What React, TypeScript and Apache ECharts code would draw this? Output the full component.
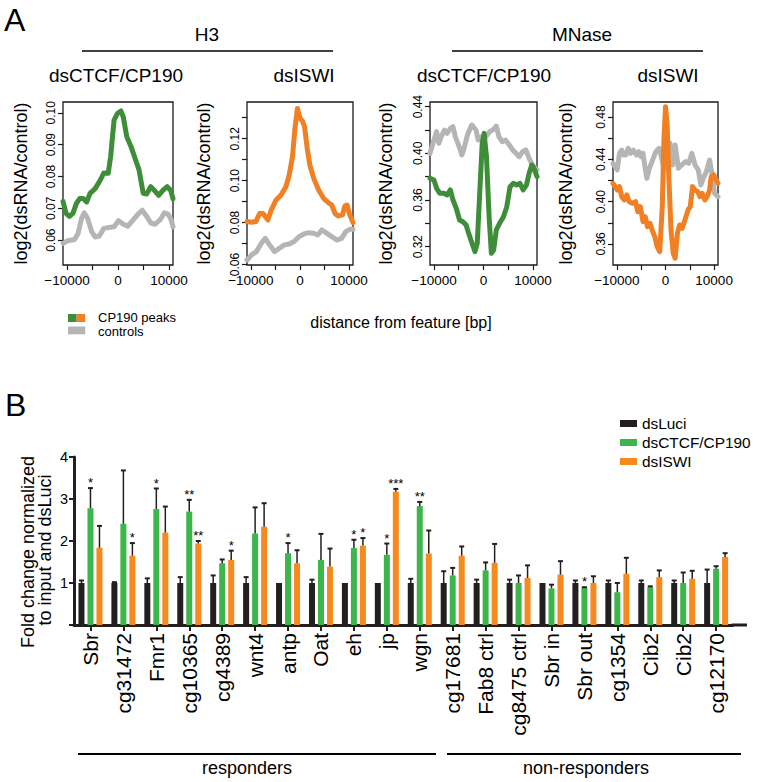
import React, { useEffect, useRef } from "react";
import * as echarts from "echarts";

const FONT = "'Liberation Sans', Arial, Helvetica, sans-serif";

// ---------------- Panel A data ----------------
const distTicks = [-10000, -5000, 0, 5000, 10000];
const distLabels = [-10000, 0, 10000];

const h3CtcfYTicks = [0.06, 0.07, 0.08, 0.09, 0.1];
const h3CtcfYLabels = [0.06, 0.07, 0.08, 0.09, 0.1];
const h3IswiYTicks = [0.06, 0.07, 0.08, 0.09, 0.1, 0.11, 0.12, 0.13];
const h3IswiYLabels = [0.06, 0.08, 0.1, 0.12];
const mnCtcfYTicks = [0.32, 0.34, 0.36, 0.38, 0.4, 0.42, 0.44];
const mnCtcfYLabels = [0.32, 0.36, 0.4, 0.44];
const mnIswiYTicks = [0.36, 0.38, 0.4, 0.42, 0.44, 0.46, 0.48];
const mnIswiYLabels = [0.36, 0.4, 0.44, 0.48];

const h3CtcfPeaks: [number, number][] = [
  [-10800, 0.0722], [-10200, 0.0684], [-9530, 0.0675], [-8855, 0.0684], [-8180, 0.0715],
  [-7510, 0.0731], [-6835, 0.0731], [-6160, 0.072], [-5490, 0.0747], [-4480, 0.0762],
  [-3470, 0.0789], [-2795, 0.0811], [-1920, 0.081], [-1450, 0.0862], [-775, 0.0977],
  [-100, 0.0998], [570, 0.1006], [1040, 0.0987], [1720, 0.0925], [2590, 0.0893],
  [3470, 0.0851], [4140, 0.082], [4950, 0.0747], [5620, 0.0745], [6430, 0.0768],
  [7100, 0.0757], [7980, 0.0741], [8860, 0.0757], [9660, 0.0768], [10340, 0.0757], [10800, 0.073],
];
const h3CtcfControls: [number, number][] = [
  [-10800, 0.059], [-9870, 0.0598], [-8520, 0.0602], [-7840, 0.0621], [-7170, 0.0668],
  [-6630, 0.0686], [-5960, 0.0668], [-5150, 0.0626], [-4480, 0.061], [-3670, 0.0613],
  [-2790, 0.0637], [-1780, 0.064], [-770, 0.0642], [100, 0.0661], [1040, 0.065],
  [1920, 0.0644], [2930, 0.0663], [3940, 0.0682], [4750, 0.0694], [5620, 0.0675],
  [6430, 0.0654], [7310, 0.065], [8320, 0.0665], [9120, 0.0686], [9800, 0.0682],
  [10340, 0.0668], [10800, 0.0642],
];
const h3IswiPeaks: [number, number][] = [
  [-10800, 0.0805], [-9870, 0.0802], [-9000, 0.0805], [-8200, 0.0844], [-7530, 0.0844],
  [-6530, 0.0813], [-5870, 0.086], [-4870, 0.0908], [-3870, 0.0932], [-2870, 0.0971],
  [-2200, 0.1027], [-1530, 0.1114], [-1070, 0.1241], [-530, 0.1344], [0, 0.1297],
  [470, 0.1286], [930, 0.1257], [1470, 0.1154], [2000, 0.1075], [2800, 0.1011],
  [3800, 0.0956], [4800, 0.0916], [5800, 0.0895], [6470, 0.0884], [7130, 0.0844],
  [7800, 0.0832], [8670, 0.0837], [9130, 0.0879], [9600, 0.0884], [10130, 0.0837], [10800, 0.08],
];
const h3IswiControls: [number, number][] = [
  [-10800, 0.0622], [-9870, 0.0646], [-8870, 0.0662], [-7870, 0.0702], [-7070, 0.0725],
  [-6200, 0.0694], [-5200, 0.0662], [-4200, 0.0678], [-3200, 0.0694], [-2200, 0.0698],
  [-1200, 0.071], [-200, 0.0733], [800, 0.0746], [1800, 0.0752], [2800, 0.0749],
  [3600, 0.0741], [4470, 0.0765], [5470, 0.0749], [6470, 0.0733], [7470, 0.0717],
  [8470, 0.0725], [9330, 0.0757], [10130, 0.0768], [10800, 0.0768],
];
const mnCtcfPeaks: [number, number][] = [
  [-10800, 0.3786], [-10000, 0.3771], [-9470, 0.37], [-8810, 0.3657], [-8010, 0.3657],
  [-7350, 0.3643], [-6690, 0.3686], [-6160, 0.36], [-5500, 0.3529], [-4830, 0.3429],
  [-4170, 0.3414], [-3510, 0.3386], [-2980, 0.3314], [-2320, 0.3229], [-1720, 0.3157],
  [-1260, 0.3229], [-730, 0.3686], [-260, 0.4086], [130, 0.4171], [600, 0.3971],
  [1130, 0.3457], [1590, 0.3143], [2050, 0.3171], [2580, 0.3343], [3250, 0.34],
  [4040, 0.3457], [4700, 0.3543], [5360, 0.3714], [6030, 0.3743], [6690, 0.3729],
  [7350, 0.3743], [8010, 0.3686], [8680, 0.3729], [9210, 0.3829], [9740, 0.39],
  [10200, 0.3871], [10800, 0.38],
];
const mnCtcfControls: [number, number][] = [
  [-10800, 0.4], [-10000, 0.4114], [-9470, 0.4186], [-9010, 0.4086], [-8540, 0.4143],
  [-7880, 0.42], [-7350, 0.4171], [-6690, 0.4214], [-6160, 0.4229], [-5700, 0.4143],
  [-5030, 0.4071], [-4370, 0.3986], [-3910, 0.4043], [-3250, 0.4157], [-2380, 0.4243],
  [-1520, 0.42], [-1060, 0.4114], [-400, 0.4143], [460, 0.4143], [1260, 0.4186],
  [2050, 0.4206], [2580, 0.4234], [3110, 0.4143], [3770, 0.41], [4440, 0.4114],
  [5230, 0.4071], [5890, 0.4029], [6560, 0.4], [7220, 0.3971], [7880, 0.4014],
  [8540, 0.4029], [9210, 0.3957], [9870, 0.39], [10800, 0.3857],
];
const mnIswiPeaks: [number, number][] = [
  [-10800, 0.4173], [-9930, 0.411], [-9470, 0.4142], [-9010, 0.4047], [-8480, 0.4016],
  [-7950, 0.4063], [-7480, 0.4], [-6820, 0.3984], [-6160, 0.4], [-5700, 0.3905],
  [-5170, 0.3953], [-4640, 0.3811], [-4170, 0.3858], [-3710, 0.3764], [-3180, 0.3795],
  [-2650, 0.3717], [-2190, 0.3669], [-1720, 0.3575], [-1190, 0.3528], [-660, 0.3953],
  [-330, 0.4583], [0, 0.4898], [330, 0.474], [660, 0.4268], [1130, 0.3732],
  [1590, 0.3512], [1990, 0.3465], [2450, 0.3701], [2910, 0.3779], [3440, 0.3748],
  [4110, 0.3843], [4640, 0.3921], [5100, 0.3953], [5560, 0.4142], [6090, 0.411],
  [6620, 0.4095], [7090, 0.4047], [7550, 0.4079], [8080, 0.4016], [8610, 0.4051],
  [9070, 0.411], [9400, 0.4236], [9930, 0.4252], [10800, 0.4173],
];
const mnIswiControls: [number, number][] = [
  [-10800, 0.4362], [-9930, 0.4299], [-9470, 0.4457], [-9010, 0.4488], [-8610, 0.4441],
  [-8150, 0.4441], [-7680, 0.4504], [-7150, 0.4457], [-6620, 0.4488], [-5960, 0.4441],
  [-5500, 0.4472], [-5030, 0.4425], [-4640, 0.4457], [-4170, 0.4315], [-3840, 0.422],
  [-3310, 0.4315], [-2650, 0.4394], [-1990, 0.4472], [-1320, 0.4504], [-860, 0.4425],
  [-330, 0.4315], [260, 0.4535], [930, 0.4551], [1460, 0.4346], [1990, 0.4535],
  [2650, 0.4315], [3310, 0.4346], [4110, 0.4378], [4770, 0.4362], [5430, 0.4457],
  [6090, 0.4346], [6750, 0.4299], [7280, 0.4157], [7750, 0.422], [8410, 0.4283],
  [9070, 0.4394], [9540, 0.4268], [10070, 0.4079], [10800, 0.4047],
];

// ---------------- Panel B data ----------------
const genes = [
  "Sbr", "cg31472", "Fmr1", "cg10365", "cg4389", "wnt4", "antp", "Oat", "eh", "jp", "wgn",
  "cg17681", "Fab8 ctrl", "cg8475 ctrl", "Sbr in", "Sbr out", "cg1354", "Cib2", "Cib2", "cg12170",
];
const luciMean = [1, 1, 1, 1, 1, 1, 1, 1, 1, 1, 1, 1, 1, 1, 1, 1, 1, 1, 1, 1];
const luciErr = [0.06, 0.02, 0.11, 0.14, 0.18, 0.14, 0, 0.08, 0, 0, 0.1, 0.28, 0.08, 0.08, 0, 0.06, 0.06, 0.06, 0.06, 0.32];
const ctcfMean = [2.78, 2.41, 2.76, 2.7, 1.47, 2.18, 1.71, 1.55, 1.83, 1.67, 2.83, 1.18, 1.3, 1.0, 0.87, 0.89, 0.78, 0.9, 1.0, 1.34];
const ctcfErr = [0.48, 1.27, 0.49, 0.28, 0.09, 0.62, 0.24, 0.62, 0.2, 0.27, 0.1, 0.18, 0.19, 0.18, 0.09, 0.01, 0.22, 0.02, 0.25, 0.06];
const iswiMean = [1.84, 1.65, 2.2, 1.94, 1.55, 2.34, 1.47, 1.39, 1.89, 3.17, 1.7, 1.65, 1.48, 1.12, 1.2, 1.0, 1.22, 1.14, 1.1, 1.62];
const iswiErr = [0.52, 0.3, 0.62, 0.06, 0.22, 0.56, 0.31, 0.43, 0.18, 0.07, 0.55, 0.22, 0.45, 0.3, 0.32, 0.16, 0.38, 0.16, 0.19, 0.09];
const luciStars = ["", "", "", "", "", "", "", "", "", "", "", "", "", "", "", "", "", "", "", ""];
const ctcfStars = ["*", "", "*", "**", "", "", "*", "", "*", "*", "**", "", "", "", "", "*", "", "", "", ""];
const iswiStars = ["", "*", "", "**", "*", "", "", "", "*", "***", "", "", "", "", "", "", "", "", "", ""];
const yTicksB = [0, 1, 2, 3, 4];
const yLabelsB = [1, 2, 3, 4];

// ---------------- styles / layout ----------------
const greenA = "#3e8d39";
const orangeA = "#f17f23";
const grayA = "#b5b5b5";
const blackB = "#231f20";
const greenB = "#3cb54a";
const orangeB = "#f68a1f";

const aPanels = [
  { left: 63, width: 110, min: 0.0522, max: 0.1034, yTicks: h3CtcfYTicks, yLabels: h3CtcfYLabels, controls: h3CtcfControls, peaks: h3CtcfPeaks, color: greenA, titleX: 21 },
  { left: 247, width: 106, min: 0.0598, max: 0.1375, yTicks: h3IswiYTicks, yLabels: h3IswiYLabels, controls: h3IswiControls, peaks: h3IswiPeaks, color: orangeA, titleX: 204 },
  { left: 430, width: 107, min: 0.3043, max: 0.444, yTicks: mnCtcfYTicks, yLabels: mnCtcfYLabels, controls: mnCtcfControls, peaks: mnCtcfPeaks, color: greenA, titleX: 386 },
  { left: 613, width: 105, min: 0.3401, max: 0.4942, yTicks: mnIswiYTicks, yLabels: mnIswiYLabels, controls: mnIswiControls, peaks: mnIswiPeaks, color: orangeA, titleX: 566 },
];
const A_TOP = 102;
const A_HEIGHT = 163;

function buildOption() {
  const grid: any[] = [];
  const xAxis: any[] = [];
  const yAxis: any[] = [];
  const series: any[] = [];
  const graphic: any[] = [];

  aPanels.forEach((p, i) => {
    grid.push({ left: p.left, top: A_TOP, width: p.width, height: A_HEIGHT, show: true, borderColor: "#1a1a1a", borderWidth: 1.3, backgroundColor: "transparent" });
    xAxis.push({
      type: "value", gridIndex: i, min: -10800, max: 10800,
      axisLine: { show: false, onZero: false },
      splitLine: { show: false },
      axisTick: { show: true, length: 5, customValues: distTicks, lineStyle: { color: "#1a1a1a", width: 1.2 } },
      axisLabel: {
        customValues: distLabels, margin: 8, fontSize: 13.5, color: "#000", fontFamily: FONT,
        formatter: (v: number) => (v < 0 ? "\u2212" + Math.abs(v) : String(v)),
      },
    });
    yAxis.push({
      type: "value", gridIndex: i, min: p.min, max: p.max,
      axisLine: { show: false, onZero: false },
      splitLine: { show: false },
      axisTick: { show: true, length: 5, customValues: p.yTicks, lineStyle: { color: "#1a1a1a", width: 1.2 } },
      axisLabel: {
        customValues: p.yLabels, rotate: 90, margin: 6, fontSize: 12, color: "#000", fontFamily: FONT,
        formatter: (v: number) => v.toFixed(2),
      },
    });
    series.push({
      type: "line", name: "controls", xAxisIndex: i, yAxisIndex: i, data: p.controls,
      showSymbol: false, symbol: "none", smooth: false,
      lineStyle: { color: grayA, width: 5, cap: "round", join: "round" }, z: 2,
    });
    series.push({
      type: "line", name: "CP190 peaks", xAxisIndex: i, yAxisIndex: i, data: p.peaks,
      showSymbol: false, symbol: "none", smooth: false,
      lineStyle: { color: p.color, width: 5, cap: "round", join: "round" }, z: 3,
    });
    graphic.push({
      type: "text", x: p.titleX, y: A_TOP + A_HEIGHT / 2, rotation: Math.PI / 2,
      style: { text: "log2(dsRNA/control)", fontSize: 18, fontFamily: FONT, fill: "#000", textAlign: "center", textVerticalAlign: "middle", align: "center", verticalAlign: "middle" },
    });
  });

  // Panel B
  const B_LEFT = 74;
  const B_TOP = 457;
  const B_WIDTH = 658.6;
  const B_HEIGHT = 168;
  grid.push({ left: B_LEFT, top: B_TOP, width: B_WIDTH, height: B_HEIGHT });
  xAxis.push({
    type: "category", gridIndex: 4, data: genes,
    axisLine: { show: true, onZero: false, lineStyle: { color: blackB, width: 3 } },
    axisTick: { show: true, alignWithLabel: true, length: 6, lineStyle: { color: blackB, width: 2 } },
    axisLabel: { interval: 0, rotate: 90, margin: 8, fontSize: 21, color: "#000", fontFamily: FONT },
    splitLine: { show: false },
  });
  yAxis.push({
    type: "value", gridIndex: 4, min: 0, max: 4,
    axisLine: { show: true, onZero: false, lineStyle: { color: blackB, width: 3 } },
    axisTick: { show: true, length: 5, customValues: yTicksB, lineStyle: { color: blackB, width: 2 } },
    axisLabel: { customValues: yLabelsB, margin: 6, fontSize: 14.5, color: "#000", fontFamily: FONT },
    splitLine: { show: false },
  });

  const barSeries = (name: string, data: number[], color: string) => ({
    type: "bar", name, xAxisIndex: 4, yAxisIndex: 4, data,
    barWidth: 6, barGap: "50%", itemStyle: { color }, z: 2,
  });
  series.push(barSeries("dsLuci", luciMean, blackB));
  series.push(barSeries("dsCTCF/CP190", ctcfMean, greenB));
  series.push(barSeries("dsISWI", iswiMean, orangeB));

  const errSeries = (name: string, means: number[], errs: number[], stars: string[], offset: number) => ({
    type: "custom", name, xAxisIndex: 4, yAxisIndex: 4, z: 4,
    data: means.map((m, i) => [i, m, m + errs[i]]),
    encode: { x: 0, y: [1, 2] },
    renderItem: (params: any, api: any) => {
      const idx = api.value(0);
      const m = api.value(1);
      const t = api.value(2);
      const pb = api.coord([idx, m]);
      const pt = api.coord([idx, t]);
      const x = pb[0] + offset;
      const children: any[] = [];
      if (t - m > 0.005) {
        children.push({ type: "line", shape: { x1: x, y1: pb[1], x2: x, y2: pt[1] }, style: { stroke: blackB, lineWidth: 1.5 } });
        children.push({ type: "line", shape: { x1: x - 2.5, y1: pt[1], x2: x + 2.5, y2: pt[1] }, style: { stroke: blackB, lineWidth: 2 } });
      }
      const s = stars[params.dataIndex];
      if (s) {
        children.push({
          type: "text", x, y: pt[1] + 1,
          style: { text: s, fontSize: 13, fontFamily: FONT, fill: "#000", textAlign: "center", textVerticalAlign: "bottom", align: "center", verticalAlign: "bottom" },
        });
      }
      return { type: "group", children };
    },
  });
  series.push(errSeries("err dsLuci", luciMean, luciErr, luciStars, -9));
  series.push(errSeries("err dsCTCF/CP190", ctcfMean, ctcfErr, ctcfStars, 0));
  series.push(errSeries("err dsISWI", iswiMean, iswiErr, iswiStars, 9));

  const txt = (text: string, x: number, y: number, fontSize: number, align = "center", extra: any = {}) => ({
    type: "text", x, y, ...extra,
    style: { text, fontSize, fontFamily: FONT, fill: "#000", textAlign: align, textVerticalAlign: "middle", align, verticalAlign: "middle" },
  });

  graphic.push(txt("A", 4, 20, 32, "left"));
  graphic.push(txt("H3", 207, 34, 19));
  graphic.push({ type: "line", shape: { x1: 82, y1: 51, x2: 333, y2: 51 }, style: { stroke: "#000", lineWidth: 1.5 } });
  graphic.push(txt("MNase", 582, 34, 19));
  graphic.push({ type: "line", shape: { x1: 452, y1: 51, x2: 703, y2: 51 }, style: { stroke: "#000", lineWidth: 1.5 } });
  graphic.push(txt("dsCTCF/CP190", 116, 75, 19));
  graphic.push(txt("dsISWI", 304, 75, 19));
  graphic.push(txt("dsCTCF/CP190", 484, 75, 19));
  graphic.push(txt("dsISWI", 668, 75, 19));
  graphic.push(txt("distance from feature [bp]", 401, 322, 16));
  graphic.push({ type: "rect", shape: { x: 68, y: 314, width: 8.6, height: 8 }, style: { fill: greenA } });
  graphic.push({ type: "rect", shape: { x: 76.6, y: 314, width: 8.6, height: 8 }, style: { fill: orangeA } });
  graphic.push({ type: "rect", shape: { x: 68, y: 326.5, width: 17.2, height: 7.8 }, style: { fill: grayA } });
  graphic.push(txt("CP190 peaks", 98, 317.5, 13, "left"));
  graphic.push(txt("controls", 98, 331, 13, "left"));

  graphic.push(txt("B", 5, 405, 32, "left"));
  graphic.push(txt("Fold change normalized", 28, 552, 18, "center", { rotation: Math.PI / 2 }));
  graphic.push(txt("to input and dsLuci", 45, 550, 18, "center", { rotation: Math.PI / 2 }));
  graphic.push({ type: "line", shape: { x1: B_LEFT + B_WIDTH - 1, y1: B_TOP + B_HEIGHT, x2: 747, y2: B_TOP + B_HEIGHT }, style: { stroke: blackB, lineWidth: 3 } });
  graphic.push({ type: "line", shape: { x1: 78, y1: 754, x2: 436, y2: 754 }, style: { stroke: "#000", lineWidth: 2 } });
  graphic.push({ type: "line", shape: { x1: 447, y1: 754, x2: 741, y2: 754 }, style: { stroke: "#000", lineWidth: 2 } });
  graphic.push(txt("responders", 247, 768, 18));
  graphic.push(txt("non-responders", 586, 768, 18));

  return {
    animation: false,
    backgroundColor: "#fff",
    textStyle: { fontFamily: FONT },
    legend: {
      data: ["dsLuci", "dsCTCF/CP190", "dsISWI"],
      orient: "vertical", left: 620, top: 416, padding: 0,
      itemWidth: 17, itemHeight: 7, itemGap: 4, icon: "rect",
      textStyle: { fontSize: 15.4, color: "#000", fontFamily: FONT },
      selectedMode: false,
    },
    grid, xAxis, yAxis, series, graphic,
  };
}

export default function App() {
  const ref = useRef<HTMLDivElement>(null);
  useEffect(() => {
    if (!ref.current) return;
    const chart = echarts.init(ref.current, null, { renderer: "svg" });
    chart.setOption(buildOption() as any);
    return () => chart.dispose();
  }, []);
  return (
    <div
      ref={ref}
      style={{ position: "fixed", left: 0, top: 0, width: 764, height: 782, background: "#fff" }}
    />
  );
}
